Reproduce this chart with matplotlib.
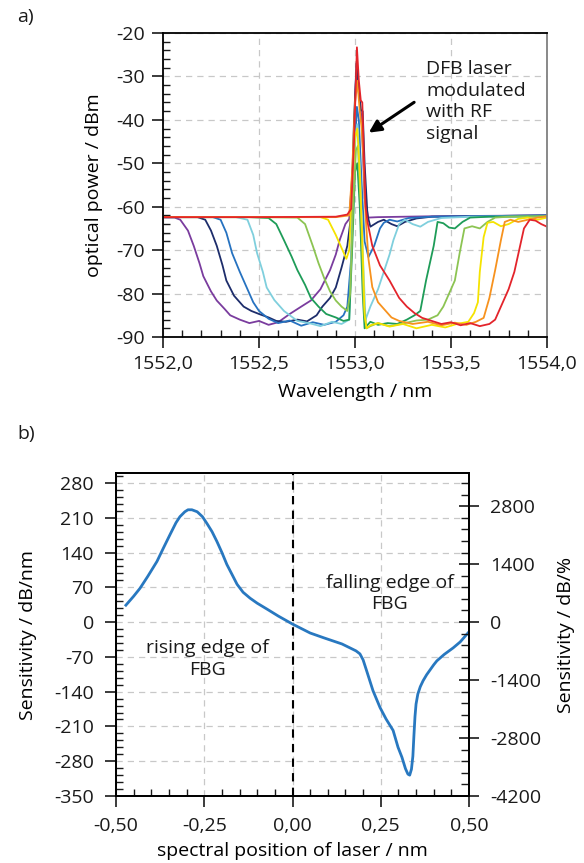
import matplotlib.pyplot as plt
from matplotlib.ticker import MultipleLocator, FuncFormatter

plt.rcParams['font.family'] = ['Open Sans', 'DejaVu Sans']
plt.rcParams['font.size'] = 14
plt.rcParams['axes.unicode_minus'] = False
plt.rcParams['text.color'] = '#1a1a1a'
plt.rcParams['xtick.color'] = '#1a1a1a'
plt.rcParams['ytick.color'] = '#1a1a1a'

# ---- panel a: FBG spectra with DFB laser line (wavelength nm, power dBm) ----
purple_wl = [1552.00, 1552.06, 1552.09, 1552.13, 1552.16, 1552.19, 1552.21, 1552.25, 1552.28, 1552.32, 1552.35,
             1552.40, 1552.45, 1552.50, 1552.55, 1552.60, 1552.66, 1552.72, 1552.77, 1552.82, 1552.87, 1552.90,
             1552.92, 1552.95, 1552.97, 1552.99, 1553.005, 1553.02, 1553.035, 1553.05, 1553.07, 1553.12, 1553.40,
             1554.00]
purple_db = [-62.5, -62.5, -63.0, -65.5, -69.0, -73.0, -76.0, -79.5, -81.6, -83.5, -85.0,
             -86.0, -86.8, -86.3, -87.2, -86.6, -84.7, -83.0, -81.6, -79.0, -74.6, -71.0,
             -67.7, -64.0, -62.8, -50.0, -30.0, -34.0, -40.0, -58.0, -62.5, -62.4, -62.2,
             -62.0]

navy_wl = [1552.00, 1552.18, 1552.22, 1552.25, 1552.28, 1552.31, 1552.33, 1552.37, 1552.42, 1552.46, 1552.50,
           1552.55, 1552.59, 1552.64, 1552.70, 1552.75, 1552.80, 1552.83, 1552.87, 1552.90, 1552.93, 1552.96,
           1552.98, 1552.995, 1553.008, 1553.02, 1553.03, 1553.04, 1553.05, 1553.065, 1553.08, 1553.12, 1553.15,
           1553.19, 1553.22, 1553.26, 1553.32, 1553.40, 1554.00]
navy_db = [-62.4, -62.4, -63.0, -65.5, -69.0, -73.5, -77.0, -80.5, -83.0, -84.0, -84.7,
           -85.5, -86.3, -86.5, -86.0, -86.4, -85.0, -83.0, -81.0, -78.6, -74.0, -69.0,
           -62.0, -40.0, -27.0, -33.0, -37.7, -38.0, -50.0, -62.0, -64.6, -63.5, -63.0,
           -64.0, -64.5, -63.5, -62.7, -62.3, -62.0]

blue_wl = [1552.00, 1552.26, 1552.30, 1552.33, 1552.36, 1552.40, 1552.44, 1552.47, 1552.50, 1552.55, 1552.60,
           1552.66, 1552.72, 1552.78, 1552.84, 1552.90, 1552.94, 1552.96, 1552.98, 1552.995, 1553.01, 1553.02,
           1553.035, 1553.05, 1553.07, 1553.10, 1553.13, 1553.15, 1553.18, 1553.22, 1553.28, 1553.40, 1554.00]
blue_db = [-62.4, -62.4, -63.0, -66.0, -70.7, -75.0, -79.0, -82.0, -84.0, -85.8, -86.8,
           -86.2, -87.4, -86.6, -87.2, -86.5, -85.0, -83.0, -72.0, -50.0, -37.0, -40.0,
           -55.0, -68.0, -71.6, -69.0, -65.0, -63.7, -63.0, -63.4, -62.6, -62.3, -62.0]

lblue_wl = [1552.00, 1552.38, 1552.44, 1552.47, 1552.49, 1552.52, 1552.54, 1552.58, 1552.63, 1552.70, 1552.76,
            1552.82, 1552.88, 1552.93, 1552.97, 1552.985, 1553.00, 1553.012, 1553.025, 1553.04, 1553.055, 1553.08,
            1553.12, 1553.15, 1553.18, 1553.20, 1553.23, 1553.26, 1553.30, 1553.34, 1553.38, 1553.45, 1553.60,
            1554.00]
lblue_db = [-62.4, -62.4, -63.0, -66.5, -70.7, -75.0, -78.6, -81.5, -84.0, -86.3, -86.8,
            -87.5, -86.5, -87.0, -86.0, -65.0, -44.0, -41.0, -50.0, -70.0, -86.0, -83.0,
            -79.0, -75.0, -71.0, -67.7, -64.0, -63.0, -64.0, -64.6, -63.5, -62.6, -62.3,
            -62.2]

green_wl = [1552.00, 1552.45, 1552.55, 1552.59, 1552.63, 1552.67, 1552.70, 1552.74, 1552.77, 1552.81, 1552.85,
            1552.90, 1552.94, 1552.97, 1552.985, 1553.00, 1553.012, 1553.025, 1553.04, 1553.05, 1553.06, 1553.08,
            1553.12, 1553.17, 1553.22, 1553.27, 1553.31, 1553.34, 1553.37, 1553.41, 1553.43, 1553.46, 1553.49,
            1553.52, 1553.56, 1553.60, 1553.70, 1554.00]
green_db = [-62.4, -62.4, -62.6, -64.0, -67.7, -71.5, -74.6, -78.0, -81.0, -83.0, -84.7,
            -85.5, -86.3, -86.0, -70.0, -52.0, -50.0, -60.0, -80.0, -88.0, -87.5, -86.5,
            -87.2, -86.8, -87.0, -86.0, -85.0, -84.0, -77.0, -69.0, -63.5, -63.8, -64.8,
            -65.0, -63.5, -62.5, -62.3, -62.2]

lgreen_wl = [1552.00, 1552.50, 1552.70, 1552.74, 1552.78, 1552.81, 1552.84, 1552.87, 1552.90, 1552.93, 1552.96,
             1552.975, 1552.99, 1553.005, 1553.015, 1553.03, 1553.045, 1553.06, 1553.08, 1553.12, 1553.18, 1553.25,
             1553.32, 1553.38, 1553.43, 1553.46, 1553.49, 1553.52, 1553.545, 1553.57, 1553.61, 1553.65, 1553.69,
             1553.73, 1553.80, 1554.00]
lgreen_db = [-62.4, -62.4, -62.5, -64.0, -69.0, -73.0, -76.5, -79.5, -81.6, -83.0, -84.0,
             -80.0, -60.0, -47.0, -46.0, -60.0, -82.0, -88.0, -87.5, -86.8, -87.5, -86.9,
             -86.2, -86.0, -85.0, -83.0, -80.0, -77.0, -70.7, -65.0, -64.5, -65.0, -63.5,
             -62.5, -62.3, -62.2]

yellow_wl = [1552.00, 1552.50, 1552.82, 1552.86, 1552.90, 1552.93, 1552.955, 1552.97, 1552.985, 1553.00, 1553.012,
             1553.025, 1553.04, 1553.05, 1553.06, 1553.08, 1553.12, 1553.18, 1553.25, 1553.32, 1553.40, 1553.47,
             1553.53, 1553.59, 1553.62, 1553.64, 1553.65, 1553.67, 1553.69, 1553.72, 1553.76, 1553.80, 1553.85,
             1553.90, 1553.95, 1554.00]
yellow_db = [-62.4, -62.4, -62.4, -63.0, -66.5, -69.5, -72.0, -70.0, -55.0, -44.0, -42.0,
             -52.0, -70.0, -85.0, -88.0, -87.3, -86.8, -87.6, -87.0, -88.0, -87.2, -87.8,
             -87.0, -86.5, -84.5, -82.0, -75.0, -67.0, -63.7, -63.5, -64.5, -64.0, -62.8,
             -62.5, -63.0, -62.5]

orange_wl = [1552.00, 1552.50, 1552.90, 1552.97, 1552.985, 1553.000, 1553.012, 1553.025, 1553.035, 1553.045, 1553.055,
             1553.07, 1553.09, 1553.12, 1553.15, 1553.19, 1553.23, 1553.30, 1553.38, 1553.45, 1553.52, 1553.58,
             1553.63, 1553.67, 1553.70, 1553.73, 1553.76, 1553.78, 1553.81, 1553.85, 1553.90, 1553.95, 1554.00]
orange_db = [-62.4, -62.4, -62.4, -62.0, -52.0, -36.0, -31.0, -38.0, -42.0, -50.0, -62.0,
             -72.0, -78.5, -82.0, -83.5, -85.5, -86.3, -87.0, -86.5, -87.3, -86.7, -87.2,
             -86.5, -85.6, -81.0, -74.6, -67.7, -63.5, -63.0, -63.5, -63.0, -62.5, -62.2]

red_wl = [1552.00, 1552.50, 1552.90, 1552.96, 1552.98, 1552.995, 1553.010, 1553.020, 1553.030, 1553.038, 1553.046,
          1553.055, 1553.065, 1553.09, 1553.13, 1553.18, 1553.23, 1553.27, 1553.31, 1553.35, 1553.40, 1553.45,
          1553.50, 1553.55, 1553.60, 1553.65, 1553.70, 1553.73, 1553.77, 1553.80, 1553.83, 1553.86, 1553.88,
          1553.91, 1553.94, 1553.97, 1554.00]
red_db = [-62.4, -62.4, -62.3, -61.8, -60.5, -45.0, -23.3, -31.0, -35.5, -36.0, -48.0,
          -60.0, -63.5, -69.0, -73.5, -77.0, -81.0, -83.0, -84.5, -85.6, -86.3, -87.0,
          -86.6, -87.3, -86.8, -87.5, -87.0, -86.0, -82.0, -79.0, -75.0, -69.0, -65.0,
          -63.0, -63.2, -64.0, -64.6]

spectra = [
    (purple_wl, purple_db, '#7a3c9e'),
    (navy_wl, navy_db, '#1d2d6b'),
    (blue_wl, blue_db, '#2672c0'),
    (lblue_wl, lblue_db, '#7fcfdd'),
    (green_wl, green_db, '#1e9c58'),
    (lgreen_wl, lgreen_db, '#8cc452'),
    (yellow_wl, yellow_db, '#f5e300'),
    (orange_wl, orange_db, '#f7921e'),
    (red_wl, red_db, '#e3242b'),
]

# ---- panel b: sensitivity vs spectral position of laser ----
laser_pos = [-0.472, -0.45, -0.432, -0.41, -0.384, -0.365, -0.347, -0.33, -0.319, -0.305, -0.296, -0.285,
             -0.27, -0.255, -0.242, -0.228, -0.214, -0.2, -0.186, -0.17, -0.157, -0.14, -0.12, -0.1,
             -0.072, -0.04, 0.0, 0.05, 0.09, 0.115, 0.14, 0.163, 0.18, 0.191, 0.2, 0.21, 0.228, 0.248,
             0.265, 0.285, 0.299, 0.31, 0.32, 0.327, 0.332, 0.337, 0.341, 0.344, 0.347, 0.350, 0.355,
             0.362, 0.37, 0.38, 0.39, 0.40, 0.409, 0.43, 0.455, 0.475, 0.497]
sensitivity = [34, 52, 68, 92, 122, 150, 176, 200, 212, 222, 226, 226,
               222, 212, 198, 182, 162, 140, 116, 94, 76, 60, 48, 38,
               26, 12, -4, -22, -32, -38, -44, -52, -58, -64, -76, -98, -138, -172,
               -195, -218, -252, -272, -295, -306, -308, -296, -270, -228, -190, -165, -145,
               -130, -118, -106, -96, -86, -78, -65, -52, -40, -22]

fig = plt.figure(figsize=(5.84, 8.63), dpi=100)
W, H = 584, 863
ax1 = fig.add_axes([163 / W, 1 - 337 / H, (547 - 163) / W, (337 - 33) / H])
ax2 = fig.add_axes([116 / W, 1 - 796 / H, (469 - 116) / W, (796 - 473) / H])

grid_kw = dict(color='#c8c8c8', linestyle=(0, (5, 4)), linewidth=0.9)


def comma(fmt):
    return FuncFormatter(lambda v, p: format(v, fmt).replace('.', ','))


# panel a
for wl, db, c in spectra:
    ax1.plot(wl, db, color=c, lw=1.3)
ax1.set_xlim(1552, 1554)
ax1.set_ylim(-90, -20)
ax1.xaxis.set_major_locator(MultipleLocator(0.5))
ax1.xaxis.set_minor_locator(MultipleLocator(0.1))
ax1.yaxis.set_major_locator(MultipleLocator(10))
ax1.yaxis.set_minor_locator(MultipleLocator(2))
ax1.xaxis.set_major_formatter(comma('.1f'))
ax1.grid(True, which='major', **grid_kw)
ax1.set_axisbelow(True)
ax1.tick_params(which='major', direction='out', length=8, width=1.2, pad=5, labelsize=14)
ax1.tick_params(which='minor', direction='in', length=5, width=1.0)
ax1.set_xlabel('Wavelength / nm')
ax1.set_ylabel('optical power / dBm')
ax1.xaxis.set_label_coords(0.5, -0.15)
ax1.yaxis.set_label_coords(-0.155, 0.5)
for s in ['left', 'bottom', 'top']:
    ax1.spines[s].set_linewidth(1.3)
ax1.spines['right'].set_color('#808080')
ax1.spines['right'].set_linewidth(1.3)
ax1.annotate('', xy=(1553.06, -43.3), xytext=(1553.32, -35.6),
             arrowprops=dict(arrowstyle='-|>', color='black', lw=2.2, mutation_scale=18))
ax1.text(1553.37, -35.8, 'DFB laser\nmodulated\nwith RF\nsignal', ha='left', va='center',
         linespacing=1.25, fontsize=14)

# panel b
ax2.plot(laser_pos, sensitivity, color='#2878c0', lw=2.0)
ax2.axvline(0, color='black', lw=1.5, linestyle=(0, (4, 3)))
ax2.set_xlim(-0.5, 0.5)
ax2.set_ylim(-350, 300)
ax2.xaxis.set_major_locator(MultipleLocator(0.25))
ax2.xaxis.set_minor_locator(MultipleLocator(0.05))
ax2.yaxis.set_minor_locator(MultipleLocator(14))
ax2.set_yticks([-350, -280, -210, -140, -70, 0, 70, 140, 210, 280])
ax2.xaxis.set_major_formatter(comma('.2f'))
ax2.grid(True, which='major', **grid_kw)
ax2.set_axisbelow(True)
ax2.tick_params(which='major', direction='out', length=8, width=1.2, pad=7, labelsize=14)
ax2.tick_params(which='minor', direction='in', length=5, width=1.0)
ax2.tick_params(axis='y', which='major', pad=8)
ax2.set_xlabel('spectral position of laser / nm')
ax2.set_ylabel('Sensitivity / dB/nm')
ax2.xaxis.set_label_coords(0.5, -0.142)
ax2.yaxis.set_label_coords(-0.225, 0.5)
for s in ax2.spines.values():
    s.set_linewidth(1.3)
ax2.text(-0.242, -74, 'rising edge of\nFBG', ha='center', va='center', linespacing=1.25, fontsize=14)
ax2.text(0.276, 58, 'falling edge of\nFBG', ha='center', va='center', linespacing=1.25, fontsize=14)

ax2r = ax2.twinx()
ax2r.set_ylim(-350 * 12, 300 * 12)
ax2r.set_yticks([-4200, -2800, -1400, 0, 1400, 2800])
ax2r.yaxis.set_minor_locator(MultipleLocator(280))
ax2r.tick_params(which='major', direction='inout', length=14, width=1.2, pad=8, labelsize=14)
ax2r.tick_params(which='minor', direction='in', length=6, width=1.0)
ax2r.set_ylabel('Sensitivity / dB/%')
ax2r.yaxis.set_label_coords(1.25, 0.5)
for s in ax2r.spines.values():
    s.set_linewidth(1.3)

fig.text(17 / W, 1 - 17 / H, 'a)', fontsize=14, va='center')
fig.text(17 / W, 1 - 434 / H, 'b)', fontsize=14, va='center')

fig.savefig('out.png', dpi=100)
